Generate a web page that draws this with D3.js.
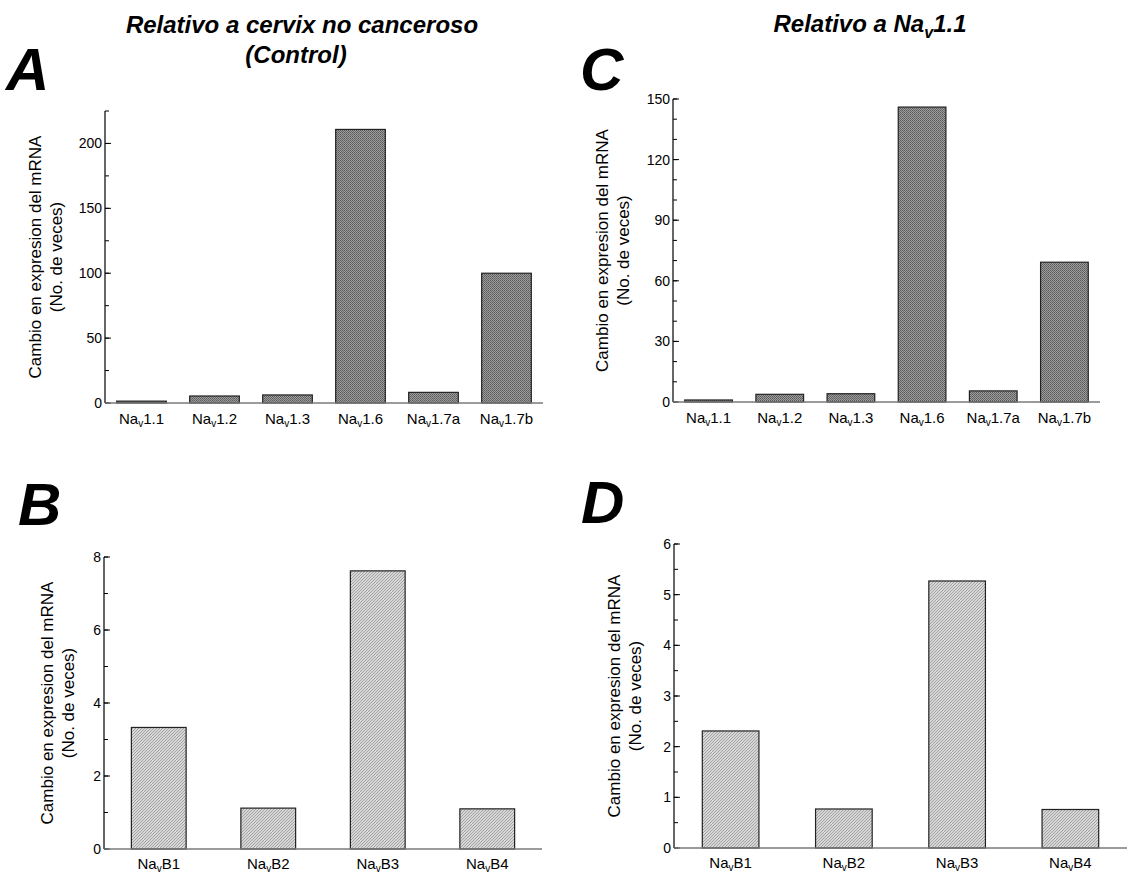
<!DOCTYPE html>
<html>
<head>
<meta charset="utf-8">
<script src="https://cdn.jsdelivr.net/npm/d3@7"></script>
<style>
  body { margin: 0; background: #fff; }
  svg { display: block; font-family: "Liberation Sans", Arial, sans-serif; }
</style>
</head>
<body>
<div id="chart"></div>
<script>
// categories
const alphaCats = ["1.1", "1.2", "1.3", "1.6", "1.7a", "1.7b"];
const betaCats = ["B1", "B2", "B3", "B4"];

// series values
const alphaVsControl = [1.44, 5.4, 6.2, 210.8, 8.2, 100];
const alphaVsNav11 = [1, 3.8, 4.1, 146, 5.5, 69.2];
const betaVsControl = [3.33, 1.12, 7.62, 1.1];
const betaVsNav11 = [2.31, 0.77, 5.27, 0.76];

// tick labels
const ticksA = [0, 50, 100, 150, 200];
const ticksB = [0, 2, 4, 6, 8];
const ticksC = [0, 30, 60, 90, 120, 150];
const ticksD = [0, 1, 2, 3, 4, 5, 6];

const yTitle1 = "Cambio en expresion del mRNA";
const yTitle2 = "(No. de veces)";

const svg = d3.select("#chart")
  .append("svg")
  .attr("width", 1128)
  .attr("height", 875);

// fill patterns
const defs = svg.append("defs");
const dark = defs.append("pattern")
  .attr("id", "dark")
  .attr("width", 2).attr("height", 2)
  .attr("patternUnits", "userSpaceOnUse");
dark.append("rect").attr("width", 2).attr("height", 2).attr("fill", "#9c9c9c");
dark.append("rect").attr("width", 1).attr("height", 1).attr("fill", "#5a5a5a");
dark.append("rect").attr("x", 1).attr("y", 1).attr("width", 1).attr("height", 1).attr("fill", "#6a6a6a");

const light = defs.append("pattern")
  .attr("id", "light")
  .attr("width", 3).attr("height", 3)
  .attr("patternUnits", "userSpaceOnUse");
light.append("rect").attr("width", 3).attr("height", 3).attr("fill", "#d6d6d6");
light.append("rect").attr("x", 0).attr("y", 2).attr("width", 1).attr("height", 1).attr("fill", "#a4a4a4");
light.append("rect").attr("x", 1).attr("y", 1).attr("width", 1).attr("height", 1).attr("fill", "#a4a4a4");
light.append("rect").attr("x", 2).attr("y", 0).attr("width", 1).attr("height", 1).attr("fill", "#a4a4a4");

// write "<prefix>Na<sub>v</sub><rest>" into a text element
function naLabel(sel, prefix, rest, subSize, subDy) {
  sel.append("tspan").text(prefix + "Na");
  sel.append("tspan").attr("font-size", subSize).attr("dy", subDy).text("v");
  sel.append("tspan").attr("dy", -subDy).text(rest);
}

function panel(p) {
  const g = svg.append("g");

  const x = d3.scaleBand()
    .domain(p.cats)
    .range([p.x0, p.x1])
    .paddingInner(p.pad)
    .paddingOuter(p.pad / 2);

  const y = d3.scaleLinear()
    .domain([0, p.max])
    .range([p.y0, p.yTop]);

  // minor ticks
  g.append("g")
    .selectAll("line")
    .data(d3.range(0, p.max + 1e-9, p.minor))
    .join("line")
    .attr("x1", p.x0).attr("x2", p.x0 + 4)
    .attr("y1", d => y(d)).attr("y2", d => y(d))
    .attr("stroke", "#000").attr("stroke-width", 1);

  // major ticks and labels
  const yAxis = d3.axisLeft(y)
    .tickValues(p.ticks)
    .tickFormat(d3.format("d"))
    .tickSize(0)
    .tickPadding(3);
  const ga = g.append("g")
    .attr("transform", `translate(${p.x0},0)`)
    .call(yAxis);
  ga.select(".domain").remove();
  ga.selectAll("text")
    .attr("font-size", 14)
    .attr("font-family", "'Liberation Sans', Arial, sans-serif")
    .attr("fill", "#000");
  g.append("g")
    .selectAll("line")
    .data(p.ticks)
    .join("line")
    .attr("x1", p.x0).attr("x2", p.x0 + 6)
    .attr("y1", d => y(d)).attr("y2", d => y(d))
    .attr("stroke", "#000").attr("stroke-width", 1);

  // y axis line
  g.append("line")
    .attr("x1", p.x0).attr("x2", p.x0)
    .attr("y1", y(p.max)).attr("y2", y(0))
    .attr("stroke", "#000").attr("stroke-width", 1.2);

  // bars
  g.append("g")
    .selectAll("rect")
    .data(p.values)
    .join("rect")
    .attr("x", (d, i) => x(p.cats[i]))
    .attr("width", x.bandwidth())
    .attr("y", d => y(d))
    .attr("height", d => y(0) - y(d))
    .attr("fill", `url(#${p.fill})`)
    .attr("stroke", "#222")
    .attr("stroke-width", 1.2);

  // x axis line
  g.append("line")
    .attr("x1", p.x0).attr("x2", p.x1)
    .attr("y1", y(0)).attr("y2", y(0))
    .attr("stroke", "#7a7a7a").attr("stroke-width", 1.6);

  // category labels
  g.append("g")
    .selectAll("text")
    .data(p.cats)
    .join("text")
    .attr("x", d => x(d) + x.bandwidth() / 2)
    .attr("y", y(0) + p.labelDy)
    .attr("text-anchor", "middle")
    .attr("font-size", 15)
    .each(function (d) { naLabel(d3.select(this), "", d, 10, 3); });

  // y axis title
  const cy = (y(0) + y(p.max)) / 2;
  g.append("text")
    .attr("transform", `translate(${p.x0 - p.titleOff},${cy}) rotate(-90)`)
    .attr("text-anchor", "middle")
    .attr("font-size", 17)
    .text(yTitle1);
  g.append("text")
    .attr("transform", `translate(${p.x0 - p.titleOff + 21},${cy}) rotate(-90)`)
    .attr("text-anchor", "middle")
    .attr("font-size", 17)
    .text(yTitle2);

  // panel letter
  g.append("text")
    .attr("x", p.letterX).attr("y", p.letterY)
    .attr("font-size", 60)
    .attr("font-weight", "bold")
    .attr("font-style", "italic")
    .text(p.letter);
}

panel({ letter: "A", letterX: 6, letterY: 90, cats: alphaCats, values: alphaVsControl,
  x0: 105, x1: 543, y0: 403, yTop: 111, max: 225, ticks: ticksA, minor: 25,
  pad: 0.32, fill: "dark", labelDy: 21, titleOff: 64 });
panel({ letter: "C", letterX: 580, letterY: 90, cats: alphaCats, values: alphaVsNav11,
  x0: 673, x1: 1100, y0: 402, yTop: 99, max: 150, ticks: ticksC, minor: 10,
  pad: 0.33, fill: "dark", labelDy: 21, titleOff: 65 });
panel({ letter: "B", letterX: 18, letterY: 525, cats: betaCats, values: betaVsControl,
  x0: 104, x1: 542, y0: 849, yTop: 557, max: 8, ticks: ticksB, minor: 1,
  pad: 0.5, fill: "light", labelDy: 20, titleOff: 51 });
panel({ letter: "D", letterX: 581, letterY: 523, cats: betaCats, values: betaVsNav11,
  x0: 674, x1: 1127, y0: 848, yTop: 544, max: 6, ticks: ticksD, minor: 0.5,
  pad: 0.5, fill: "light", labelDy: 20, titleOff: 54 });

// column titles
svg.append("text")
  .attr("x", 302).attr("y", 33)
  .attr("text-anchor", "middle")
  .attr("font-size", 24).attr("font-weight", "bold").attr("font-style", "italic")
  .text("Relativo a cervix no canceroso");
svg.append("text")
  .attr("x", 296).attr("y", 63)
  .attr("text-anchor", "middle")
  .attr("font-size", 24).attr("font-weight", "bold").attr("font-style", "italic")
  .text("(Control)");

const titleC = svg.append("text")
  .attr("x", 870).attr("y", 32)
  .attr("text-anchor", "middle")
  .attr("font-size", 24).attr("font-weight", "bold").attr("font-style", "italic");
naLabel(titleC, "Relativo a ", "1.1", 16, 6);
</script>
</body>
</html>
